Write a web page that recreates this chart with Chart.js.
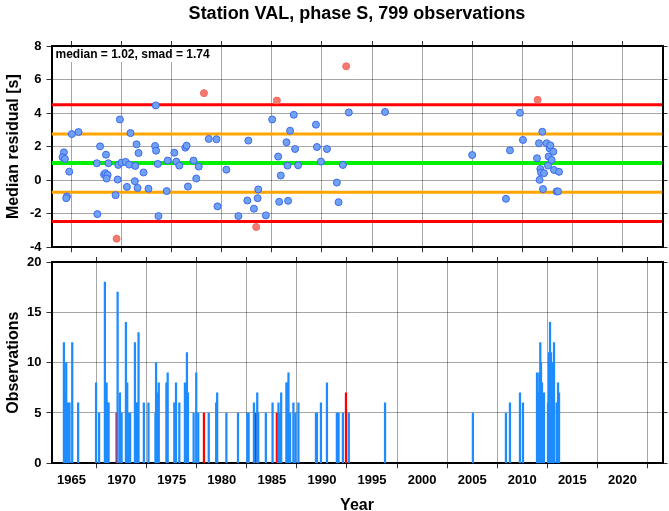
<!DOCTYPE html>
<html><head><meta charset="utf-8">
<script src="https://cdn.jsdelivr.net/npm/chart.js@4.4.1/dist/chart.umd.min.js"></script>
<style>
html,body{margin:0;padding:0;background:#fff;}
#wrap{position:relative;width:669px;height:511px;}
canvas{position:absolute;left:0;top:0;}
</style></head><body>
<div id="wrap">
<canvas id="c1" width="669" height="511"></canvas>
<canvas id="c2" width="669" height="511"></canvas>
</div>
<script>
// ---------------- data ----------------
const titleText = 'Station VAL, phase S, 799 observations';
const median = 1.02;
const smad = 1.74;
const yearTicks = [1965,1970,1975,1980,1985,1990,1995,2000,2005,2010,2015,2020];
const residTicks = [-4,-2,0,2,4,6,8];
const obsTicks = [0,5,10,15,20];
const X_MIN = 1963, X_MAX = 2024;

const ptYears = [1964.24,1964.10,1964.34,1964.77,1964.54,1964.47,1965.03,1965.70,1967.58,1967.85,1967.52,1968.44,1968.68,1968.25,1968.38,1968.60,1968.50,1969.40,1969.60,1969.67,1969.83,1970.00,1970.40,1970.76,1970.53,1970.89,1971.36,1971.32,1971.49,1971.69,1971.59,1972.19,1972.68,1973.41,1973.34,1973.44,1973.61,1973.68,1974.50,1974.60,1975.26,1975.46,1975.76,1976.36,1976.49,1976.62,1977.18,1977.45,1977.70,1978.70,1979.47,1979.57,1980.46,1981.66,1982.65,1982.55,1983.21,1983.64,1983.58,1984.40,1985.03,1985.63,1985.89,1985.73,1986.56,1986.46,1986.62,1986.82,1987.19,1987.32,1987.62,1989.40,1989.50,1989.90,1990.50,1991.49,1991.66,1992.09,1992.68,1996.30,2005.00,2008.37,2008.77,2009.77,2010.07,2011.47,2011.67,2011.73,2011.80,2011.87,2012.00,2012.07,2012.17,2012.43,2012.57,2012.63,2012.73,2012.80,2012.93,2013.10,2013.17,2013.43,2013.57,2013.67];
const ptValues = [1.66,1.37,1.27,0.51,-0.97,-1.07,2.75,2.87,-2.02,2.02,1.01,1.52,1.01,0.34,0.42,0.32,0.10,-0.89,0.04,0.91,3.62,1.05,1.09,0.93,-0.40,2.81,0.85,-0.06,2.14,1.62,-0.46,0.46,-0.51,4.46,2.04,1.76,0.97,-2.14,-0.65,1.17,1.64,1.11,0.87,1.94,2.06,-0.38,1.17,0.10,0.81,2.46,2.44,-1.56,0.63,-2.14,2.36,-1.21,-1.70,-0.55,-1.07,-2.10,3.62,1.41,0.28,-1.29,0.87,2.26,-1.23,2.95,3.90,1.86,0.89,3.31,1.98,1.11,1.86,-0.14,-1.31,0.91,4.04,4.07,1.50,-1.11,1.78,4.02,2.40,1.31,2.20,0.02,0.67,0.46,2.89,-0.53,0.42,2.20,0.87,1.41,1.90,2.08,1.21,1.70,0.61,-0.67,-0.67,0.50];

const outYears = [1969.50,1978.22,1983.44,1985.50,1992.42,2011.53];
const outValues = [-3.49,5.19,-2.79,4.75,6.79,4.79];

const barYears = [1964.24,1964.34,1964.47,1964.64,1964.80,1965.07,1965.66,1967.45,1967.75,1968.33,1968.50,1968.62,1968.70,1969.60,1969.83,1970.00,1970.43,1970.56,1970.75,1970.85,1971.33,1971.45,1971.55,1971.69,1972.22,1972.68,1973.38,1973.44,1973.54,1973.71,1974.47,1974.60,1975.26,1975.43,1975.76,1976.32,1976.52,1976.62,1977.19,1977.45,1977.65,1978.70,1979.44,1979.54,1980.46,1981.62,1982.55,1982.68,1983.21,1983.54,1983.64,1984.40,1985.07,1985.66,1985.83,1985.93,1986.45,1986.52,1986.66,1986.82,1987.15,1987.35,1987.65,1989.40,1989.50,1989.90,1990.50,1991.49,1991.66,1992.09,1992.68,1996.30,2005.07,2008.37,2008.77,2009.77,2010.07,2011.47,2011.57,2011.70,2011.80,2011.87,2011.97,2012.17,2012.57,2012.67,2012.77,2012.87,2012.97,2013.07,2013.17,2013.43,2013.57,2013.67];
const barCounts = [12,7,10,6,6,12,6,8,5,18,8,6,6,17,7,5,14,8,5,5,12,6,6,13,6,6,5,10,7,8,8,9,6,8,6,8,11,7,5,9,5,5,6,7,5,5,5,5,6,7,5,5,6,6,5,7,8,8,9,5,6,5,6,5,5,6,8,5,5,5,5,6,5,5,6,7,6,9,7,9,12,10,8,7,6,11,14,11,10,6,12,6,8,7];
const outBarYears = [1969.50,1978.22,1983.40,1985.50,1992.40,2011.53];
const outBarCounts = [5,5,5,5,7,5];

// ---------------- helpers ----------------
const FONT = "'Liberation Sans', Arial, Helvetica, sans-serif";
const GRID = 'rgba(0,0,0,0.35)';
const fixW = w => s => { s.width = w; };
const fixH = h => s => { s.height = h; };
const setTicks = vals => s => { s.ticks = vals.map(v => ({value: v})); };
const plain = v => String(v);

function xAxis(pos, showLabels, h, onArea, extra) {
  return Object.assign({
    type: 'linear', position: pos, min: X_MIN, max: X_MAX, offset: false,
    afterBuildTicks: setTicks(yearTicks), afterFit: fixH(h),
    ticks: {display: showLabels, color: '#000', padding: 4, maxRotation: 0, autoSkip: false, callback: plain,
            font: {family: FONT, size: 13, weight: 'bold'}},
    grid: {display: true, drawOnChartArea: onArea, color: GRID, lineWidth: 1, drawTicks: true, tickLength: 5, tickColor: '#333'},
    border: {display: true, color: '#000', width: 2}
  }, extra || {});
}
function yAxis(pos, ticksArr, w, onArea, showLabels, titleText) {
  return {
    type: 'linear', position: pos, min: ticksArr[0], max: ticksArr[ticksArr.length-1],
    afterBuildTicks: setTicks(ticksArr), afterFit: fixW(w),
    ticks: {display: showLabels, color: '#000', padding: 5, autoSkip: false, callback: plain,
            font: {family: FONT, size: 13, weight: 'bold'}},
    grid: {display: true, drawOnChartArea: onArea, color: GRID, lineWidth: 1, drawTicks: true, tickLength: 5, tickColor: '#333'},
    border: {display: true, color: '#000', width: 2},
    title: titleText ? {display: true, text: titleText, color: '#000',
            font: {family: FONT, size: 16, weight: 'bold', lineHeight: 1.2}, padding: {top: 4, bottom: 0}} : {display: false}
  };
}

const titlePlugin = {
  id: 'mainTitle',
  afterDatasetsDraw(chart) {
    const ctx = chart.ctx, a = chart.chartArea;
    ctx.save();
    const label = 'median = ' + median.toFixed(2) + ', smad = ' + smad.toFixed(2);
    ctx.font = "bold 12px " + FONT;
    const w = ctx.measureText(label).width;
    ctx.fillStyle = '#fff';
    ctx.fillRect(a.left + 2, a.top + 2, w + 6, 14);
    ctx.fillStyle = '#000';
    ctx.textAlign = 'left';
    ctx.textBaseline = 'alphabetic';
    ctx.fillText(label, a.left + 4, a.top + 12);
    ctx.restore();
  },
  afterDraw(chart) {
    const ctx = chart.ctx, a = chart.chartArea;
    ctx.save();
    ctx.font = "bold 18px " + FONT;
    ctx.fillStyle = '#000';
    ctx.textAlign = 'center';
    ctx.textBaseline = 'alphabetic';
    ctx.fillText(titleText, (a.left + a.right) / 2, 19);
    ctx.restore();
  }
};

// ---------------- top chart ----------------
const hline = (y, color, width) => ({
  type: 'line', data: [{x: X_MIN, y: y}, {x: X_MAX, y: y}], showLine: true,
  borderColor: color, borderWidth: width, pointRadius: 0, order: 2, clip: 0
});

new Chart(document.getElementById('c1'), {
  type: 'scatter',
  data: {
    datasets: [
      {data: ptYears.map((x, i) => ({x, y: ptValues[i]})), pointRadius: 3.5, pointBorderWidth: 1,
       backgroundColor: '#6fa2f2', borderColor: '#3d68ee', order: 0},
      {data: outYears.map((x, i) => ({x, y: outValues[i]})), pointRadius: 3.5, pointBorderWidth: 1,
       backgroundColor: '#f47a72', borderColor: '#f26a62', order: 0},
      hline(median, '#00f000', 4),
      hline(median + smad, '#ffa500', 3),
      hline(median - smad, '#ffa500', 3),
      hline(median + 2 * smad, '#ff0000', 3),
      hline(median - 2 * smad, '#ff0000', 3)
    ]
  },
  options: {
    responsive: false, animation: false, devicePixelRatio: 1,
    layout: {padding: {top: 40, left: 0, right: 0, bottom: 511 - 247.3 - 6}},
    plugins: {legend: {display: false}, tooltip: {enabled: false}},
    scales: {
      x: xAxis('bottom', false, 6, true),
      xT: xAxis('top', false, 6, false),
      y: yAxis('left', residTicks, 51.5, true, true, 'Median residual [s]'),
      yR: yAxis('right', residTicks, 6.5, false, false, null)
    }
  },
  plugins: [titlePlugin]
});

// ---------------- bottom chart ----------------
new Chart(document.getElementById('c2'), {
  type: 'bar',
  data: {
    datasets: [
      {data: barYears.map((x, i) => ({x, y: barCounts[i]})), backgroundColor: '#1e8cff',
       barThickness: 1.6, grouped: false, order: 0},
      {data: outBarYears.map((x, i) => ({x, y: outBarCounts[i]})), backgroundColor: '#ff0000',
       barThickness: 1.6, grouped: false, order: 1}
    ]
  },
  options: {
    responsive: false, animation: false, devicePixelRatio: 1,
    layout: {padding: {top: 256, left: 0, right: 0, bottom: 0}},
    plugins: {legend: {display: false}, tooltip: {enabled: false}},
    scales: {
      x: xAxis('bottom', true, 511 - 463.3, true, {
        title: {display: true, text: 'Year', color: '#000',
                font: {family: FONT, size: 16, weight: 'bold', lineHeight: 1}, padding: {top: 0, bottom: -3}}
      }),
      xT: xAxis('top', false, 6, false),
      y: yAxis('left', obsTicks, 51.5, true, true, 'Observations'),
      yR: yAxis('right', obsTicks, 6.5, false, false, null)
    }
  }
});
</script>
</body></html>
